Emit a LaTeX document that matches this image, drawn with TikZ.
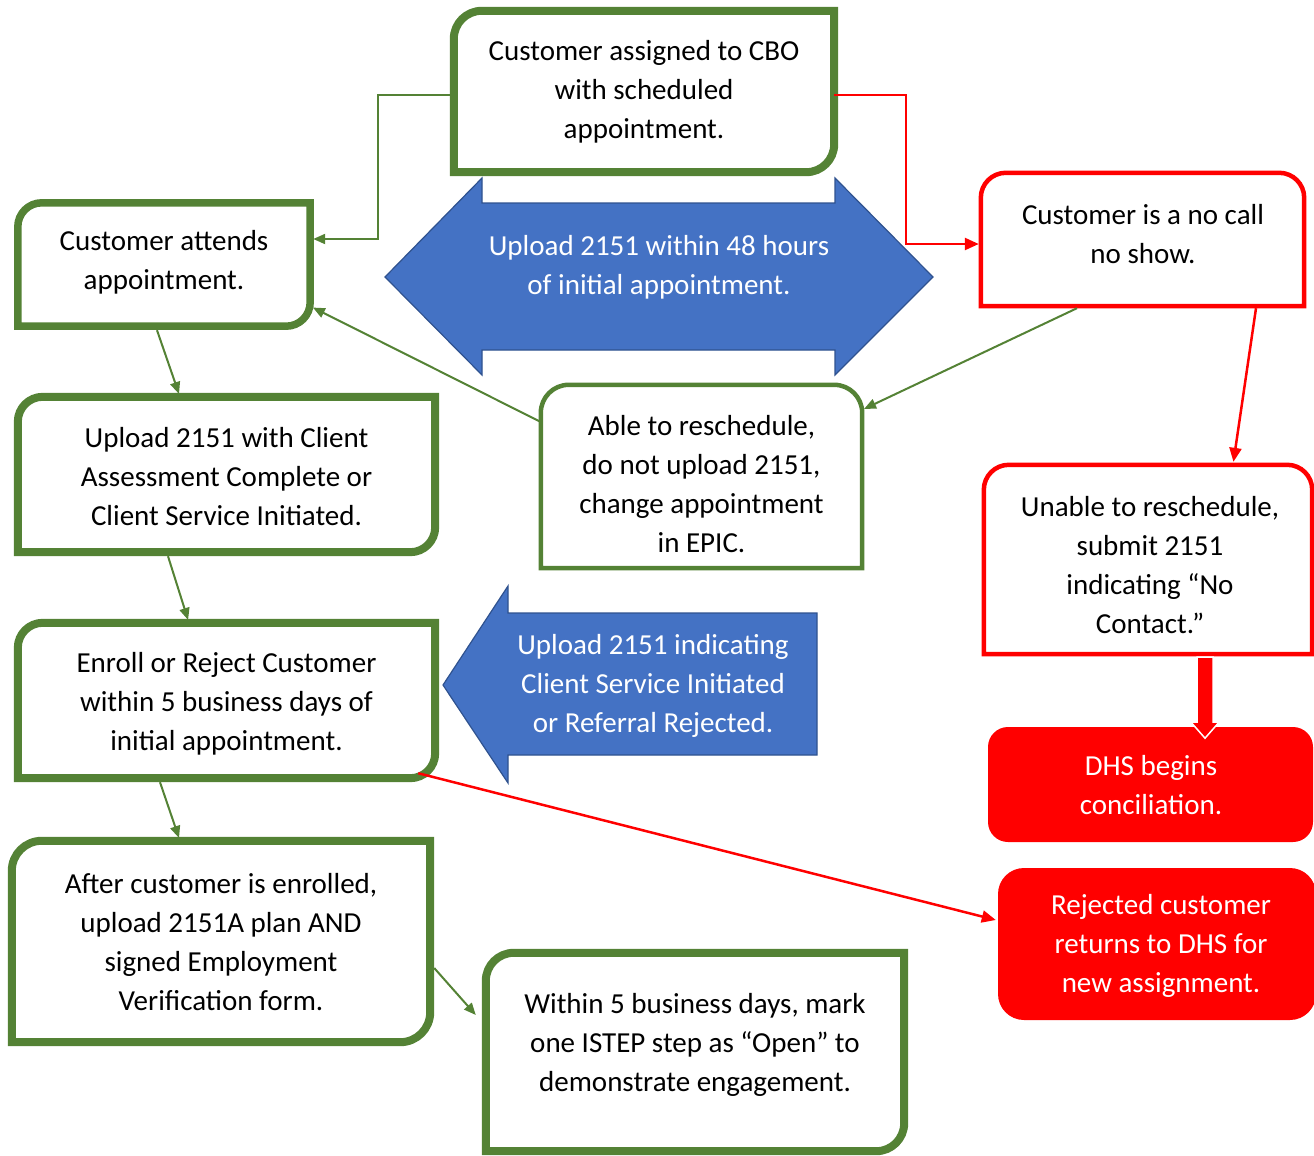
\documentclass[tikz,border=0pt]{standalone}
\usepackage{fontspec}
\setmainfont{Carlito}
\usetikzlibrary{calc,arrows.meta}
\definecolor{gr}{HTML}{548235}
\definecolor{bl}{HTML}{4472C4}
\definecolor{bld}{HTML}{2F528F}
\definecolor{rd}{HTML}{FF0000}

% box with top-left and bottom-right corners rounded
\newcommand\boxTLBR[4]{%
\draw[#3, line width=#4] ($(#1.north west)+(0,#2)$) -- (#1.south west) -- ($(#1.south east)+(-#2,0)$)
 .. controls ($(#1.south east)+({-0.448*#2},0)$) and ($(#1.south east)+(0,{-0.448*#2})$) .. ($(#1.south east)+(0,-#2)$)
 -- (#1.north east) -- ($(#1.north west)+(#2,0)$)
 .. controls ($(#1.north west)+({0.448*#2},0)$) and ($(#1.north west)+(0,{0.448*#2})$) .. ($(#1.north west)+(0,#2)$) -- cycle;}
% box with both top corners rounded
\newcommand\boxTT[4]{%
\draw[#3, line width=#4] (#1.south west) -- ($(#1.north west)+(0,#2)$)
 .. controls ($(#1.north west)+(0,{0.448*#2})$) and ($(#1.north west)+({0.448*#2},0)$) .. ($(#1.north west)+(#2,0)$)
 -- ($(#1.north east)+(-#2,0)$)
 .. controls ($(#1.north east)+({-0.448*#2},0)$) and ($(#1.north east)+(0,{0.448*#2})$) .. ($(#1.north east)+(0,#2)$)
 -- (#1.south east) -- cycle;}

\tikzset{
  shapebox/.style={rectangle, inner sep=0pt},
  txt/.style={inner sep=0pt, align=center, font=\fontsize{29}{39}\selectfont},
  wtxt/.style={txt, text=white},
  redfill/.style={shapebox, fill=rd},
  garr/.style={gr, line width=2pt, -{Triangle[length=12pt,width=10pt]}},
  rarr/.style={rd, line width=2.5pt, -{Triangle[length=14pt,width=12pt]}},
  bluearrow/.style={fill=bl, draw=bld, line width=1.2pt, line join=miter},
  redblock/.style={fill=rd, draw=white, line width=1.5pt, line join=miter},
}

\begin{document}
\begin{tikzpicture}[x=1pt,y=-1pt]
\useasboundingbox (0,0) rectangle (1314,1156);

% blue block arrows
\draw[bluearrow] (385,277) -- (482,178) -- (482,203) -- (835,203) -- (835,178) -- (933,277)
  -- (835,375) -- (835,350) -- (482,350) -- (482,375) -- cycle;
\node[wtxt] (dbl) at (659,267) {Upload 2151 within 48 hours\\of initial appointment.};

\draw[bluearrow] (443,685) -- (508,586) -- (508,613) -- (817,613) -- (817,755) -- (508,755) -- (508,783) -- cycle;
\node[wtxt] (lft) at (653,685.5) {Upload 2151 indicating\\Client Service Initiated\\or Referral Rejected.};

% boxes
\node[shapebox, minimum width=380pt, minimum height=161pt] (top) at (644,91.5) {};
\boxTLBR{top}{28}{gr}{8pt}
\node[txt] (top-t) at (644,91.5) {Customer assigned to CBO\\with scheduled\\appointment.};

\node[shapebox, minimum width=292pt, minimum height=123pt] (attends) at (164,264.5) {};
\boxTLBR{attends}{24}{gr}{7.5pt}
\node[txt] (attends-t) at (164,262) {Customer attends\\appointment.};

\node[shapebox, minimum width=417pt, minimum height=155pt] (upload) at (226.5,474.5) {};
\boxTLBR{upload}{25}{gr}{8pt}
\node[txt] (upload-t) at (226.5,476.5) {Upload 2151 with Client\\Assessment Complete or\\Client Service Initiated.};

\node[shapebox, minimum width=417pt, minimum height=155pt] (enroll) at (226.5,700.5) {};
\boxTLBR{enroll}{25}{gr}{8pt}
\node[txt] (enroll-t) at (226.5,703.5) {Enroll or Reject Customer\\within 5 business days of\\initial appointment.};

\node[shapebox, minimum width=418pt, minimum height=201pt] (after) at (221,941.5) {};
\boxTLBR{after}{30}{gr}{8pt}
\node[txt] (after-t) at (221,942.5) {After customer is enrolled,\\upload 2151A plan AND\\signed Employment\\Verification form.};

\node[shapebox, minimum width=418pt, minimum height=198pt] (within) at (695,1052) {};
\boxTLBR{within}{28}{gr}{8pt}
\node[txt] (within-t) at (695,1044.5) {Within 5 business days, mark\\one ISTEP step as “Open” to\\demonstrate engagement.};

\node[shapebox, minimum width=321pt, minimum height=183pt] (able) at (701.5,476.5) {};
\boxTT{able}{28}{gr}{4.5pt}
\node[txt] (able-t) at (701.5,484.5) {Able to reschedule,\\do not upload 2151,\\change appointment\\in EPIC.};

\node[shapebox, minimum width=323pt, minimum height=133pt] (nocall) at (1142.5,239.5) {};
\boxTT{nocall}{25}{rd}{4.5pt}
\node[txt] (nocall-t) at (1143,234) {Customer is a no call\\no show.};

\node[shapebox, minimum width=328pt, minimum height=189pt] (unable) at (1148,559.5) {};
\boxTT{unable}{25}{rd}{4.5pt}
\node[txt] (unable-t) at (1150,565.5) {Unable to reschedule,\\submit 2151\\indicating “No\\Contact.”};

\node[redfill, rounded corners=20pt, minimum width=325pt, minimum height=115pt] (dhs) at (1150.5,784.5) {};
\node[wtxt] (dhs-t) at (1151,785) {DHS begins\\conciliation.};

\node[redfill, rounded corners=26pt, minimum width=318pt, minimum height=152pt] (rejected) at (1157,944) {};
\node[wtxt] (rejected-t) at (1161,946) {Rejected customer\\returns to DHS for\\new assignment.};

% red block arrow from unable to dhs
\draw[redblock, shift={(unable.south)}] (49,3) -- (65,3) -- (65,68) -- (71,68) -- (57,84) -- (43,68) -- (49,68) -- cycle;

% connectors
\draw[garr, shorten >=3pt] ([yshift=-3.5pt]top.west) -- ++(-76,0) |- ([yshift=25.5pt]attends.east);
\draw[rarr, shorten >=2pt] ([yshift=-3.5pt]top.east) -- ++(72,0) |- ([yshift=-4.5pt]nocall.west);
\draw[garr, shorten >=2pt] ([xshift=-65.5pt,yshift=-2pt]nocall.south) -- ([yshift=-25pt]able.north east);
\draw[garr, shorten >=3pt] ([yshift=54.5pt]able.west) -- ([yshift=20pt]attends.south east);
\draw[rarr, shorten >=3pt] ([xshift=113.5pt,yshift=-2pt]nocall.south) -- ([xshift=85pt]unable.north);
\draw[garr, shorten >=3pt] ([xshift=-7pt,yshift=-4pt]attends.south) -- ([xshift=-46.5pt]upload.north);
\draw[garr, shorten >=3pt] ([xshift=-58.5pt,yshift=-4pt]upload.south) -- ([xshift=-37.5pt]enroll.north);
\draw[garr, shorten >=3pt] ([xshift=-66.5pt,yshift=-4pt]enroll.south) -- ([xshift=-41pt]after.north);
\draw[garr] ([xshift=4pt,yshift=-26.5pt]after.east) -- ([xshift=-10pt,yshift=37pt]within.west);
\draw[rarr] ([xshift=-17pt,yshift=5pt]enroll.south east) -- ([xshift=-2pt,yshift=24pt]rejected.west);
\end{tikzpicture}
\end{document}
